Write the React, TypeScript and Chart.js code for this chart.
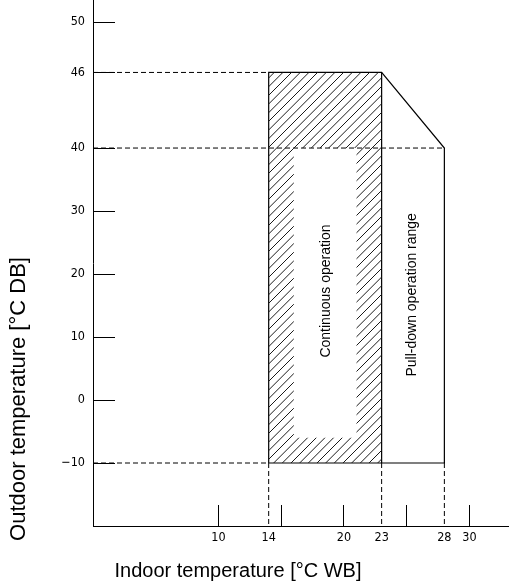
import React, { useEffect, useRef } from "react";
import { Chart, registerables } from "chart.js";

Chart.register(...registerables);

// Y tick values (°C DB) and X tick values (°C WB)
const yTickValues = [-10, 0, 10, 20, 30, 40, 46, 50];
const yTickLabels = ["−10", "0", "10", "20", "30", "40", "46", "50"];
const xTickValues = [10, 14, 15, 20, 23, 25, 28, 30];
const xTickLabels = ["10", "14", "", "20", "23", "", "28", "30"];
const xDashedTicks = [14, 23, 28];

// Hatched "continuous operation" band (outer rectangle minus inner rectangle)
const hatchOuter: [number, number][] = [[14, -10], [14, 46], [23, 46], [23, -10]];
const hatchInner: [number, number][] = [[16, -6], [21, -6], [21, 40], [16, 40]];

// Solid outline of the operation ranges
const outlinePath: [number, number][] = [[14, -10], [14, 46], [23, 46], [28, 40], [28, -10], [14, -10]];
const divider: [number, number][] = [[23, 46], [23, -10]];

// Dashed guide lines
const dashedSegments: [number, number][][] = [
  [[0, 46], [14, 46]],
  [[0, 40], [28, 40]],
  [[0, -10], [14, -10]],
  [[14, -10], [14, -20]],
  [[23, -10], [23, -20]],
  [[28, -10], [28, -20]],
];

const labelContinuous = "Continuous operation";
const labelPullDown = "Pull-down operation range";
const titleX = "Indoor temperature [°C WB]";
const titleY = "Outdoor temperature [°C DB]";

// the vertical axis is compressed below 40 °C: above 40 one degree takes double space
const toAxis = (y: number) => (y <= 40 ? y : 40 + (y - 40) * 2);
const pts = (arr: [number, number][]) => arr.map(([x, y]) => ({ x, y: toAxis(y) }));

const tickFont = { family: "'Liberation Sans Narrow', 'DejaVu Sans Condensed', 'Liberation Sans', sans-serif", size: 12.5 };

function makeHatch(): CanvasPattern | string {
  const n = 26;
  const c = document.createElement("canvas");
  c.width = n;
  c.height = n;
  const g = c.getContext("2d");
  if (!g) return "#888";
  g.strokeStyle = "#1a1a1a";
  g.lineWidth = 1;
  const step = n / 3;
  for (let k = -4; k <= 7; k++) {
    const o = k * step;
    g.beginPath();
    g.moveTo(o, n);
    g.lineTo(o + n, 0);
    g.stroke();
  }
  const p = g.createPattern(c, "repeat");
  return p || "#888";
}

const textPlugin = {
  id: "texts",
  afterDraw(chart: any) {
    const { ctx, scales } = chart;
    const xs = scales.x;
    const ys = scales.y;
    ctx.save();
    ctx.fillStyle = "#000";
    ctx.textAlign = "center";
    ctx.textBaseline = "middle";
    ctx.font = "14px 'Liberation Sans', Arial, sans-serif";
    const drawRot = (t: string, x: number, y: number) => {
      ctx.save();
      ctx.translate(x, y);
      ctx.rotate(-Math.PI / 2);
      ctx.fillText(t, 0, 0);
      ctx.restore();
    };
    drawRot(labelContinuous, xs.getPixelForValue(18.6), ys.getPixelForValue(toAxis(17.3)));
    drawRot(labelPullDown, xs.getPixelForValue(25.4), ys.getPixelForValue(toAxis(16.7)));
    ctx.font = "20px 'Liberation Sans', Arial, sans-serif";
    ctx.fillText(titleX, 238, 571);
    ctx.font = "22px 'Liberation Sans', Arial, sans-serif";
    drawRot(titleY, 19, 399);
    ctx.restore();
  },
};

export default function App() {
  const ref = useRef<HTMLCanvasElement | null>(null);

  useEffect(() => {
    if (!ref.current) return;
    const hatch = makeHatch();
    const shape = [
      ...pts(hatchOuter),
      pts(hatchOuter)[0],
      ...pts(hatchInner),
      pts(hatchInner)[0],
      pts(hatchOuter)[0],
    ];
    const datasets: any[] = [
      {
        data: shape,
        fill: "shape",
        backgroundColor: hatch,
        borderColor: "rgba(0,0,0,0)",
        borderWidth: 0,
        pointRadius: 0,
        tension: 0,
      },
      ...dashedSegments.map((seg) => ({
        data: pts(seg),
        borderColor: "#000",
        borderWidth: 1,
        borderDash: [5, 3],
        pointRadius: 0,
        fill: false,
      })),
      {
        data: pts(outlinePath),
        borderColor: "#000",
        borderWidth: 1.2,
        pointRadius: 0,
        fill: false,
      },
      {
        data: pts(divider),
        borderColor: "#000",
        borderWidth: 1.2,
        pointRadius: 0,
        fill: false,
      },
    ];

    const chart = new Chart(ref.current, {
      type: "line",
      data: { datasets },
      plugins: [textPlugin],
      options: {
        responsive: false,
        animation: false,
        devicePixelRatio: 1,
        layout: { padding: 0 },
        plugins: {
          legend: { display: false },
          tooltip: { enabled: false },
          title: { display: false },
        },
        scales: {
          x: {
            type: "linear",
            position: "bottom",
            min: 0,
            max: 33.15,
            afterFit: (s: any) => {
              s.height = 62;
              s.paddingLeft = 0;
              s.paddingRight = 0;
              s.paddingTop = 0;
              s.paddingBottom = 0;
            },
            afterBuildTicks: (s: any) => {
              s.ticks = xTickValues.map((v) => ({ value: v }));
            },
            ticks: {
              autoSkip: false,
              maxRotation: 0,
              minRotation: 0,
              padding: 25,
              color: "#000",
              font: tickFont,
              callback: (_v: any, i: number) => xTickLabels[i],
            },
            grid: {
              drawOnChartArea: false,
              drawTicks: true,
              tickLength: -21,
              lineWidth: 1,
              color: (c: any) =>
                c.tick && xDashedTicks.includes(c.tick.value) ? "rgba(0,0,0,0)" : "#000",
            },
            border: { display: true, color: "#000", width: 1 },
          },
          y: {
            type: "linear",
            position: "left",
            min: -20,
            max: 63.5,
            afterFit: (s: any) => {
              s.width = 93;
              s.paddingLeft = 0;
              s.paddingRight = 0;
              s.paddingTop = 0;
              s.paddingBottom = 0;
            },
            afterBuildTicks: (s: any) => {
              s.ticks = yTickValues.map((v) => ({ value: toAxis(v) }));
            },
            ticks: {
              autoSkip: false,
              padding: 30,
              color: "#000",
              font: tickFont,
              callback: (_v: any, i: number) => yTickLabels[i],
            },
            grid: {
              drawOnChartArea: false,
              drawTicks: true,
              tickLength: -22,
              lineWidth: 1,
              color: "#000",
            },
            border: { display: true, color: "#000", width: 1 },
          },
        },
      } as any,
    });
    return () => chart.destroy();
  }, []);

  return (
    <div style={{ position: "fixed", left: 0, top: 0, width: 509, height: 588, background: "#fff" }}>
      <canvas ref={ref} width={509} height={588} style={{ width: 509, height: 588, display: "block" }} />
    </div>
  );
}
